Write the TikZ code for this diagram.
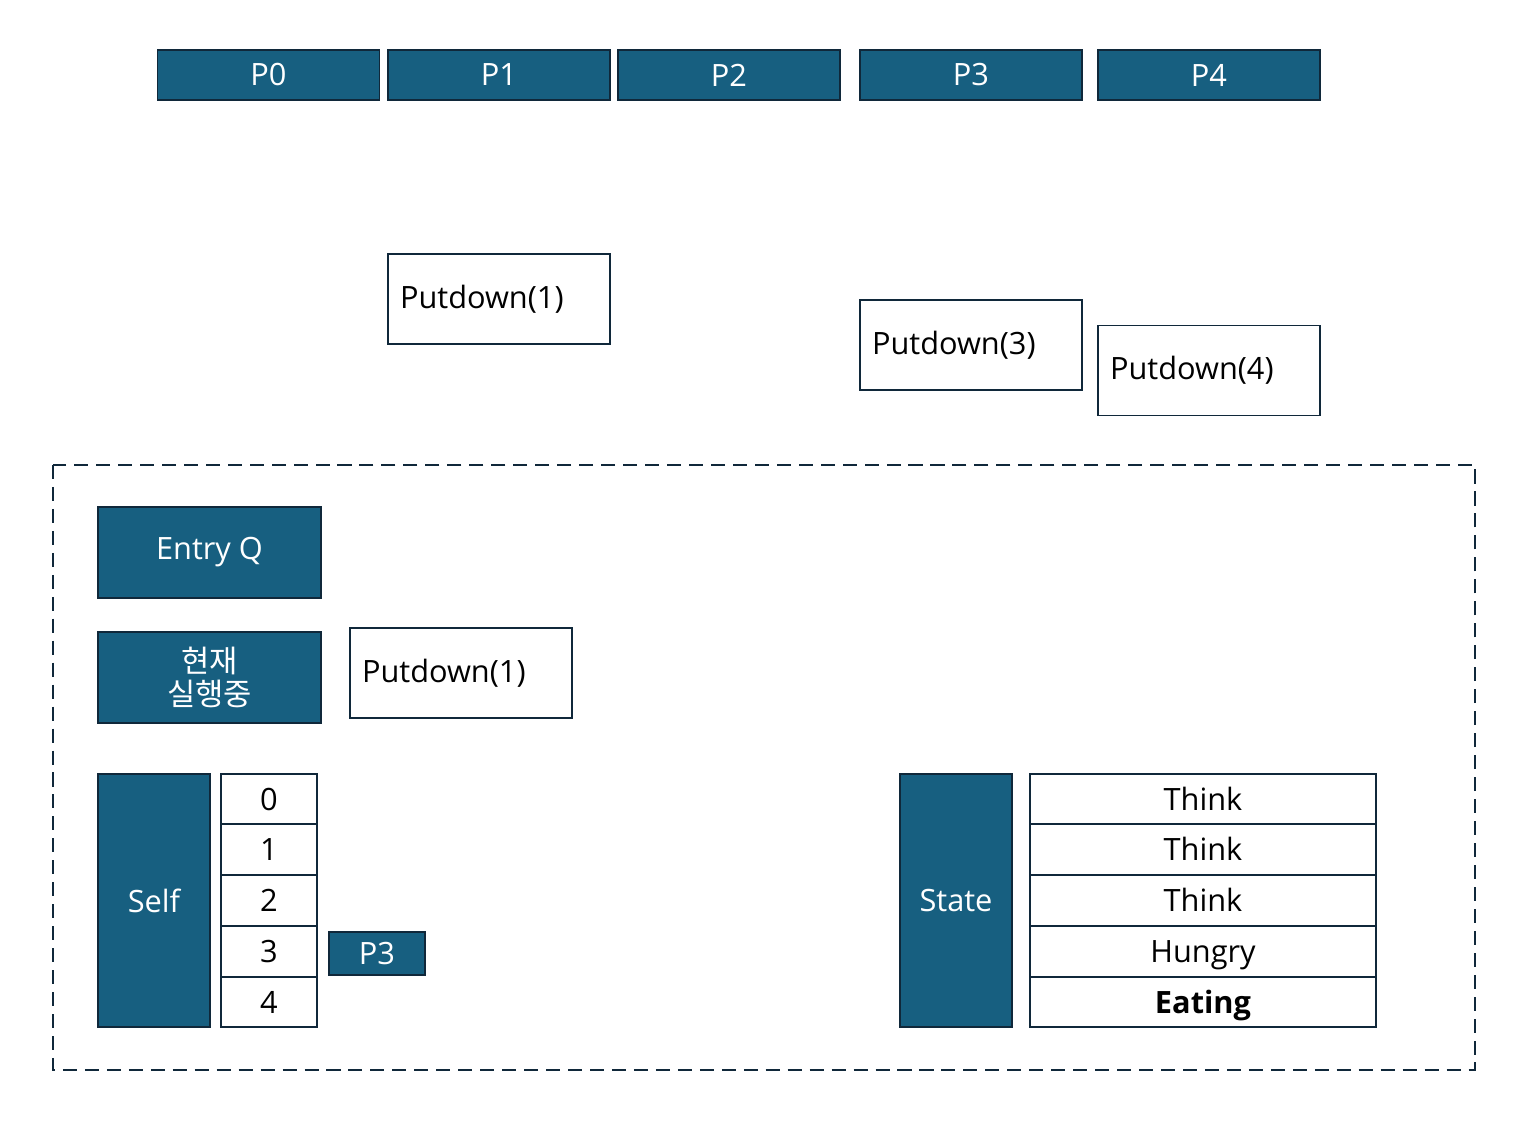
\documentclass[tikz,border=0pt]{standalone}
\usepackage{fontspec}
\setmainfont{Open Sans}
\newfontfamily\kofont{Noto Sans CJK KR}
\definecolor{tealbox}{HTML}{175F80}
\definecolor{edgec}{HTML}{10283A}
\begin{document}
\begin{tikzpicture}[x=0.02cm,y=-0.02cm,
  every node/.style={font=\fontsize{17.5}{21}\selectfont},
  fillbox/.style={draw=edgec, line width=1.1pt, fill=tealbox, text=white, inner sep=0pt},
  plainbox/.style={draw=edgec, line width=1.1pt, fill=white, inner sep=0pt},
  callbox/.style={draw=edgec, line width=1.1pt, fill=white, minimum width=4.44cm, minimum height=1.8cm, text width=3.96cm, align=left, inner xsep=0.24cm},
  pbox/.style={fillbox, minimum width=4.44cm, minimum height=1cm},
  cell/.style={plainbox, minimum height=1.01cm, text height=12.6pt, text depth=0pt}]
\useasboundingbox (0,0) rectangle (1514,1125);
\node[pbox] (p0) at (268.5,75){P0};
\node[pbox] (p1) at (499,75){P1};
\node[pbox] (p2) at (729,75){P2};
\node[pbox] (p3) at (971,75){P3};
\node[pbox] (p4) at (1209,75){P4};
\node[callbox] (call1) at (499,299){Putdown(1)};
\node[callbox] (call3) at (971,345){Putdown(3)};
\node[callbox] (call4) at (1209,370.5){Putdown(4)};
\draw[edgec, line width=1.1pt, dash pattern=on 8pt off 4.5pt] (53,465) rectangle (1475,1070);
\node[fillbox, minimum width=4.46cm, minimum height=1.82cm] (entryq) at (209.5,552.5){Entry Q};
\node[fillbox, minimum width=4.46cm, minimum height=1.82cm, align=center, font=\kofont\fontsize{17.5}{18.5}\selectfont] (running) at (209.5,677.5){현재\\실행중};
\node[callbox] (curcall) at (461,673){Putdown(1)};
\node[fillbox, minimum width=2.24cm, minimum height=5.06cm] (self) at (154,900.5){Self};
\node[cell, minimum width=1.92cm] (self0) at (269,799){0};
\node[cell, minimum width=1.92cm] (self1) at (269,849.5){1};
\node[cell, minimum width=1.92cm] (self2) at (269,900.5){2};
\node[cell, minimum width=1.92cm] (self3) at (269,951.5){3};
\node[cell, minimum width=1.92cm] (self4) at (269,1002){4};
\node[fillbox, minimum width=1.92cm, minimum height=0.86cm] (selfp3) at (377,953.5){P3};
\node[fillbox, minimum width=2.24cm, minimum height=5.06cm] (state) at (956,900.5){State};
\node[cell, minimum width=6.92cm] (state0) at (1203,799){Think};
\node[cell, minimum width=6.92cm] (state1) at (1203,849.5){Think};
\node[cell, minimum width=6.92cm] (state2) at (1203,900.5){Think};
\node[cell, minimum width=6.92cm] (state3) at (1203,951.5){Hungry};
\node[cell, minimum width=6.92cm, font=\fontsize{17.5}{21}\selectfont\bfseries] (state4) at (1203,1002){Eating};
\end{tikzpicture}
\end{document}
